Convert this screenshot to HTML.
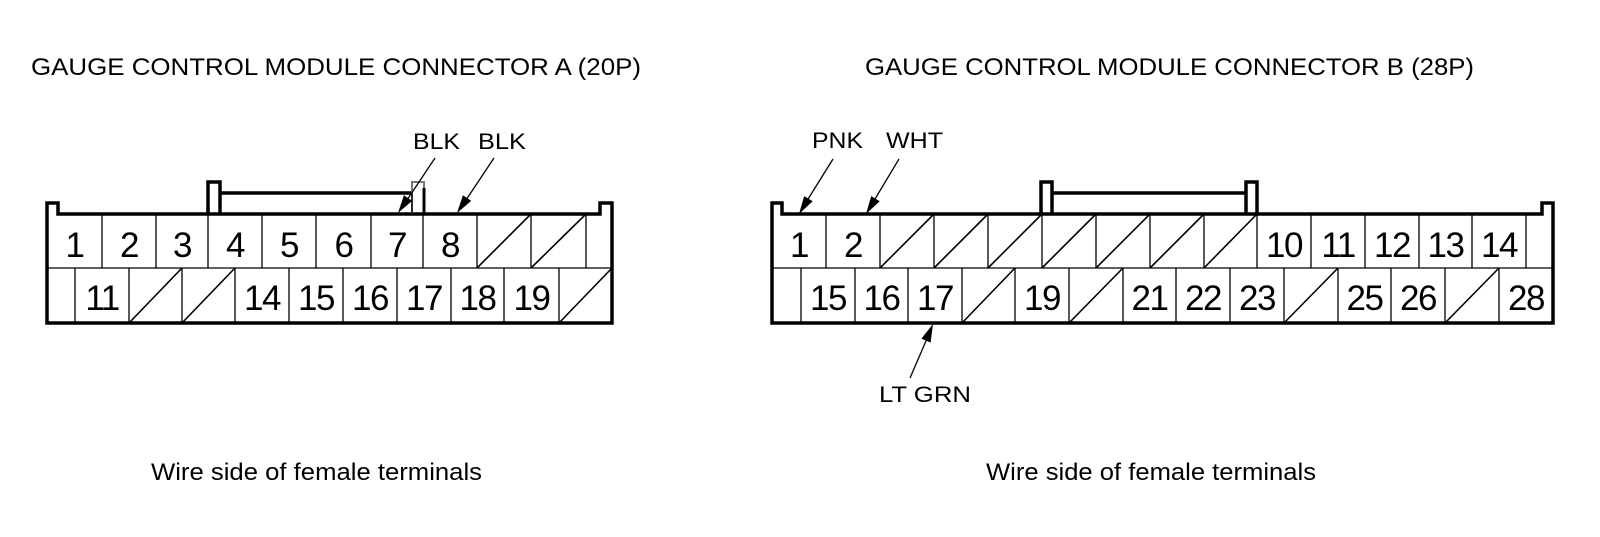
<!DOCTYPE html>
<html><head><meta charset="utf-8"><style>
html,body{margin:0;padding:0;background:#fff;}
svg{display:block;}
text{font-family:"Liberation Sans",Arial,sans-serif;fill:#000;}
.n{font-size:35px;text-anchor:middle;letter-spacing:-1.5px;}
.l{font-size:22px;}
.t{font-size:24px;}
.o{fill:none;stroke:#000;stroke-width:3.5;stroke-linejoin:miter;}
.i{fill:none;stroke:#000;stroke-width:1.3;}
.d{fill:none;stroke:#000;stroke-width:1.6;}
.a{stroke:#000;stroke-width:1.3;}
</style></head><body>
<svg width="1600" height="537" viewBox="0 0 1600 537" xmlns="http://www.w3.org/2000/svg">
<text class="t" x="31" y="75" textLength="610" lengthAdjust="spacingAndGlyphs">GAUGE CONTROL MODULE CONNECTOR A (20P)</text>
<text class="t" x="865" y="75" textLength="609" lengthAdjust="spacingAndGlyphs">GAUGE CONTROL MODULE CONNECTOR B (28P)</text>
<text class="t" x="151" y="480" textLength="331" lengthAdjust="spacingAndGlyphs">Wire side of female terminals</text>
<text class="t" x="986" y="480" textLength="330" lengthAdjust="spacingAndGlyphs">Wire side of female terminals</text>

<!-- ===== Connector A ===== -->
<path class="o" d="M47,323 L47,203 L58,203 L58,214 L600,214 L600,203 L612,203 L612,323 Z"/>
<path class="o" d="M208,214 V182 H220 V214"/>
<path class="o" d="M220,193 H412"/>
<path d="M412,214 V182 H424 V214" fill="none" stroke="#777" stroke-width="2"/>
<path d="M424,188 V214" fill="none" stroke="#000" stroke-width="3"/>
<line class="i" x1="220" y1="193" x2="220" y2="214"/>
<line class="i" x1="412" y1="193" x2="412" y2="214"/>
<line class="i" x1="47" y1="268" x2="612" y2="268"/>
<g class="i">
<path d="M102,214V268M156,214V268M208,214V268M262,214V268M316,214V268M371,214V268M423,214V268M477,214V268M531,214V268M586,214V268"/>
<path d="M75,268V323M129,268V323M182,268V323M235,268V323M289,268V323M343,268V323M397,268V323M451,268V323M504,268V323M559,268V323"/>
</g>
<g class="d">
<path d="M477,268L531,214M531,268L586,214M129,323L182,268M182,323L235,268M559,323L612,268"/>
</g>
<text class="n" x="74.5" y="257">1</text>
<text class="n" x="129" y="257">2</text>
<text class="n" x="182" y="257">3</text>
<text class="n" x="235" y="257">4</text>
<text class="n" x="289" y="257">5</text>
<text class="n" x="343.5" y="257">6</text>
<text class="n" x="397" y="257">7</text>
<text class="n" x="450" y="257">8</text>
<text class="n" x="102" y="310">11</text>
<text class="n" x="262" y="310">14</text>
<text class="n" x="316" y="310">15</text>
<text class="n" x="370" y="310">16</text>
<text class="n" x="424" y="310">17</text>
<text class="n" x="477.5" y="310">18</text>
<text class="n" x="531.5" y="310">19</text>
<text class="l" x="413" y="149" textLength="47" lengthAdjust="spacingAndGlyphs">BLK</text>
<text class="l" x="478" y="149" textLength="48" lengthAdjust="spacingAndGlyphs">BLK</text>
<line class="a" x1="435" y1="158" x2="405" y2="203"/>
<polygon points="398,213 412.2,200.9 403.9,195.3"/>
<line class="a" x1="494" y1="158" x2="464" y2="203"/>
<polygon points="457,213 471.2,200.9 462.9,195.3"/>

<!-- ===== Connector B ===== -->
<path class="o" d="M772,323 L772,203 L782,203 L782,214 L1542,214 L1542,203 L1553,203 L1553,323 Z"/>
<path class="o" d="M1041,214 V182 H1052 V214"/>
<path class="o" d="M1052,193 H1246"/>
<path class="o" d="M1246,214 V182 H1257 V214"/>
<line class="i" x1="772" y1="268" x2="1553" y2="268"/>
<g class="i">
<path d="M826,214V268M880,214V268M934,214V268M988,214V268M1042,214V268M1096,214V268M1150,214V268M1204,214V268M1257,214V268M1311,214V268M1365,214V268M1419,214V268M1472,214V268M1526,214V268"/>
<path d="M801,268V323M855,268V323M908,268V323M962,268V323M1015,268V323M1069,268V323M1123,268V323M1176,268V323M1230,268V323M1284,268V323M1338,268V323M1391,268V323M1445,268V323M1499,268V323"/>
</g>
<g class="d">
<path d="M880,268L934,214M934,268L988,214M988,268L1042,214M1042,268L1096,214M1096,268L1150,214M1150,268L1204,214M1204,268L1257,214"/>
<path d="M962,323L1015,268M1069,323L1123,268M1284,323L1338,268M1445,323L1499,268"/>
</g>
<text class="n" x="799" y="257">1</text>
<text class="n" x="853" y="257">2</text>
<text class="n" x="1284" y="257">10</text>
<text class="n" x="1338" y="257">11</text>
<text class="n" x="1392" y="257">12</text>
<text class="n" x="1445.5" y="257">13</text>
<text class="n" x="1499" y="257">14</text>
<text class="n" x="828" y="310">15</text>
<text class="n" x="881.5" y="310">16</text>
<text class="n" x="935" y="310">17</text>
<text class="n" x="1042" y="310">19</text>
<text class="n" x="1149.5" y="310">21</text>
<text class="n" x="1203" y="310">22</text>
<text class="n" x="1257" y="310">23</text>
<text class="n" x="1364.5" y="310">25</text>
<text class="n" x="1418" y="310">26</text>
<text class="n" x="1526" y="310">28</text>
<text class="l" x="812" y="148" textLength="51" lengthAdjust="spacingAndGlyphs">PNK</text>
<text class="l" x="886" y="148" textLength="57" lengthAdjust="spacingAndGlyphs">WHT</text>
<text class="l" x="879" y="402" textLength="92" lengthAdjust="spacingAndGlyphs">LT GRN</text>
<line class="a" x1="833" y1="159" x2="805" y2="204"/>
<polygon points="799,214 812.7,201.3 804.2,196.1"/>
<line class="a" x1="899" y1="159" x2="872" y2="204"/>
<polygon points="866,214 879.7,201.3 871.2,196.1"/>
<line class="a" x1="910" y1="378" x2="929" y2="334"/>
<polygon points="933,324 930.6,342.6 921.4,338.6"/>
</svg>
</body></html>
